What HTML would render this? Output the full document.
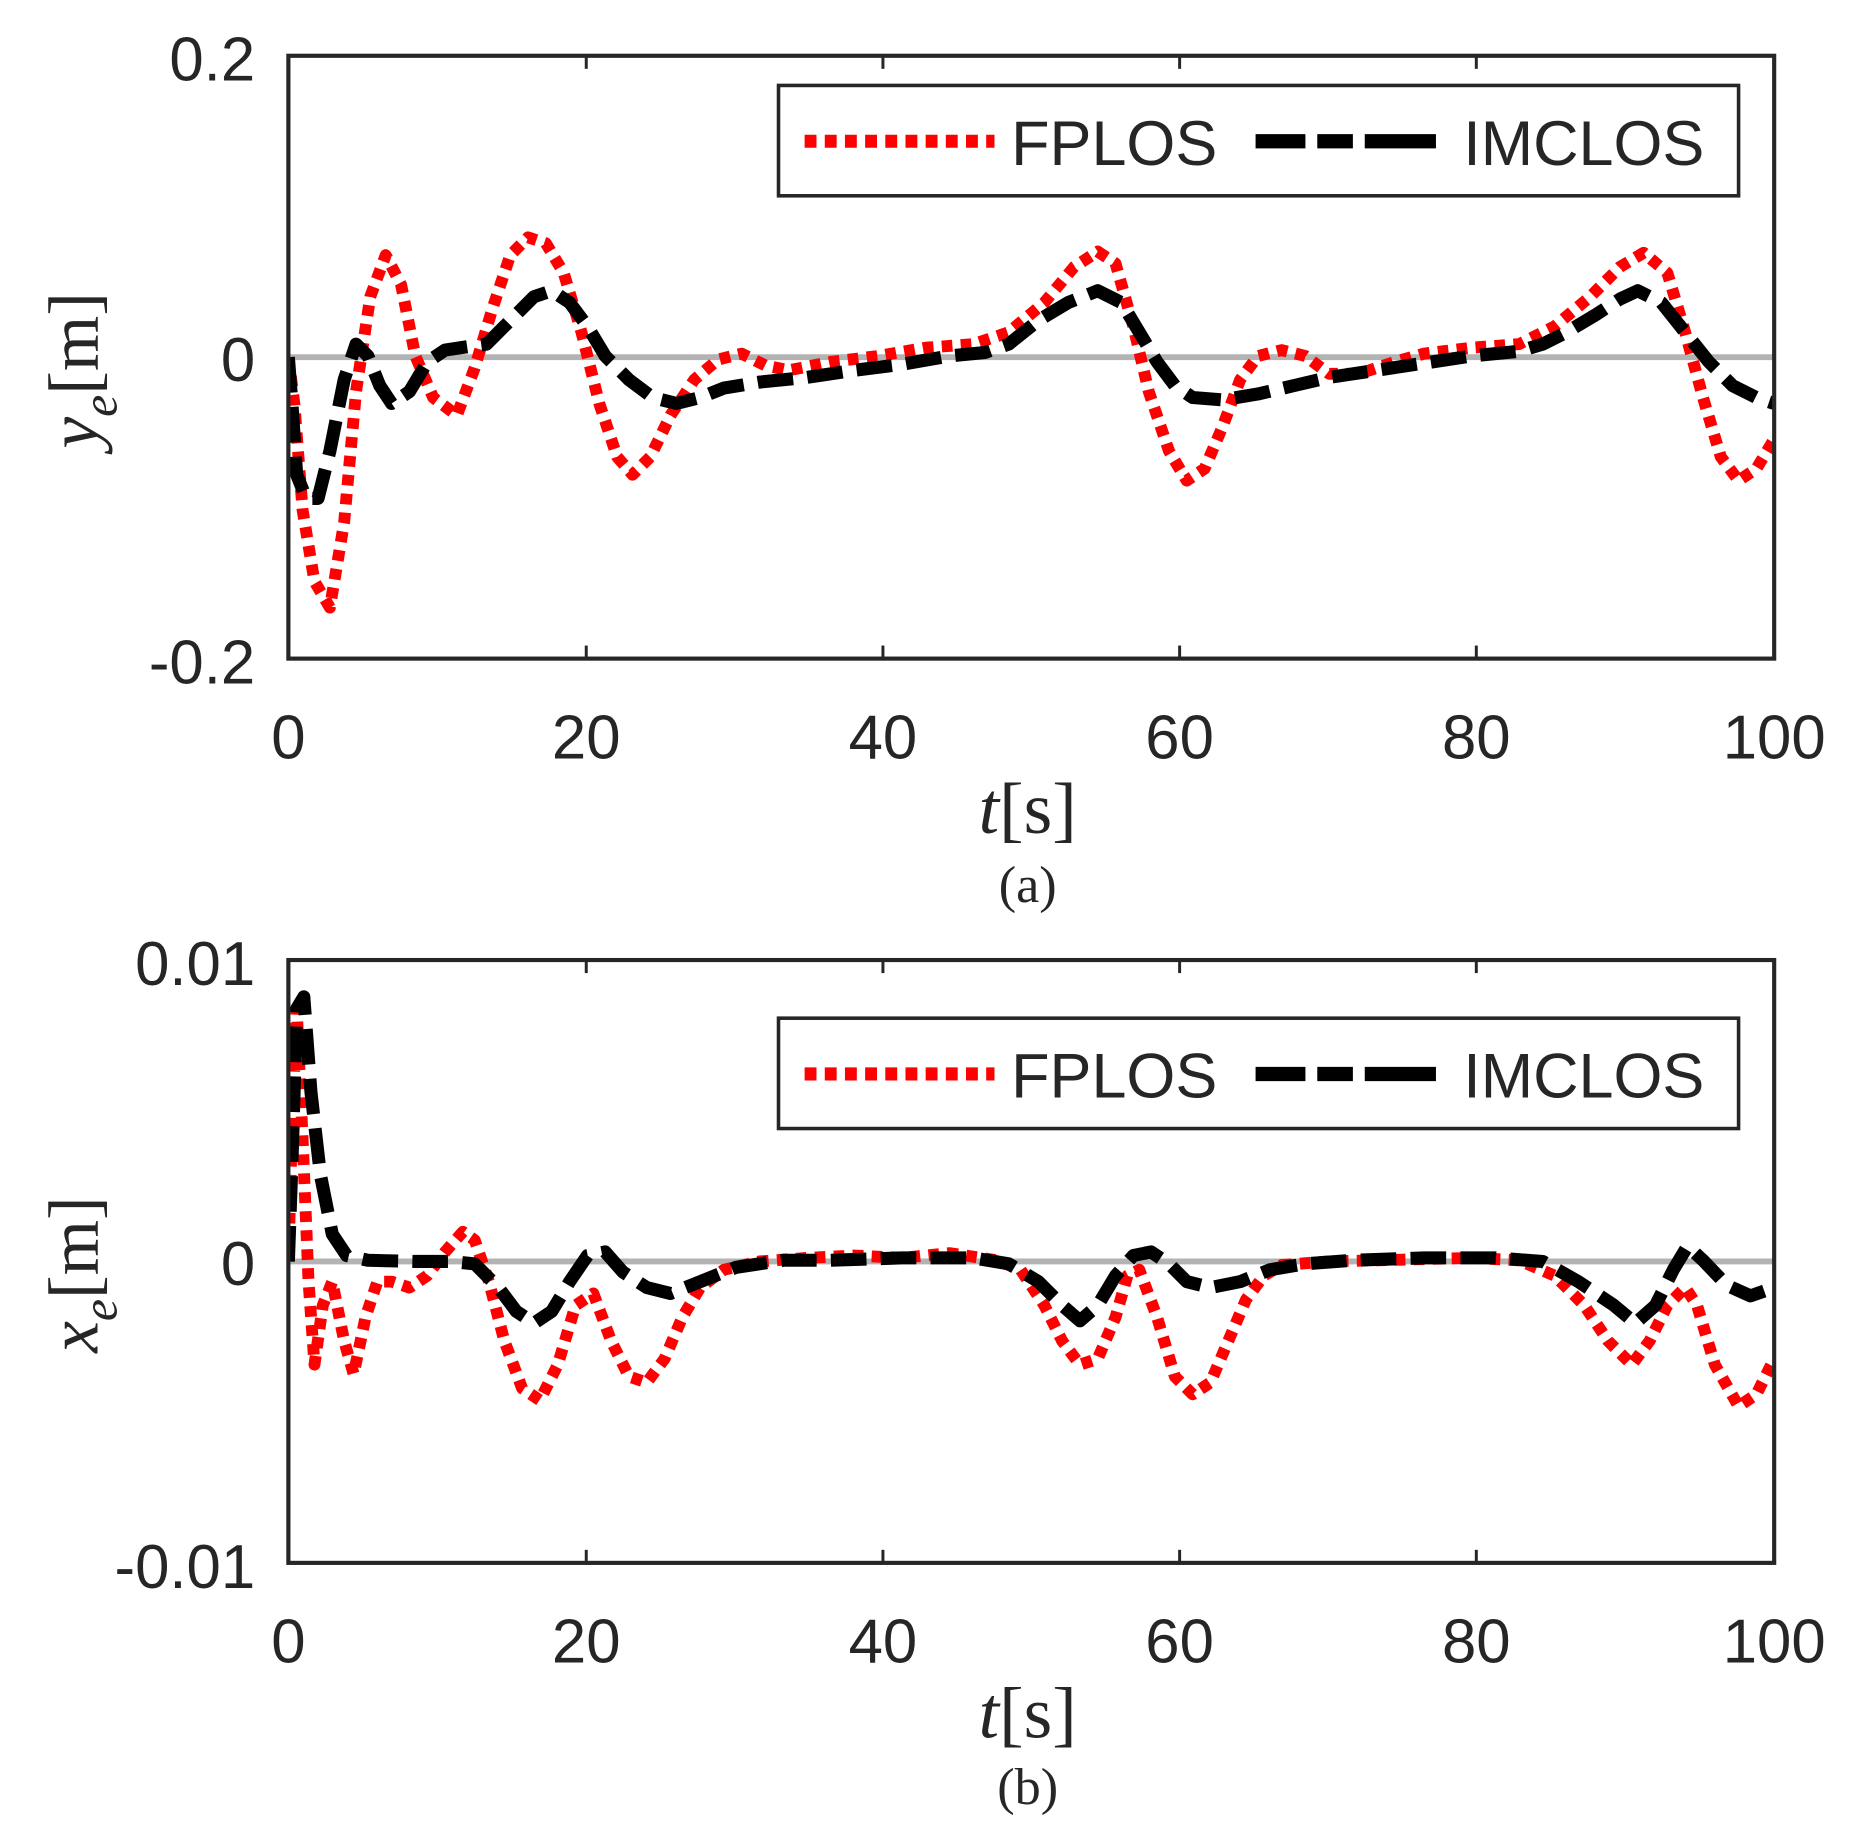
<!DOCTYPE html>
<html><head><meta charset="utf-8"><style>html,body{margin:0;padding:0;background:#fff}svg{display:block}</style></head>
<body>
<svg width="1862" height="1837" viewBox="0 0 1569 1548" preserveAspectRatio="none" xmlns="http://www.w3.org/2000/svg">
<rect width="1569" height="1548" fill="#fff"/>
<defs>
<clipPath id="ca"><rect x="243" y="47" width="1252" height="508"/></clipPath>
<clipPath id="cb"><rect x="243" y="809" width="1252" height="508"/></clipPath>
</defs>
<g font-family="Liberation Sans, sans-serif" font-size="52" fill="#262626">
<!-- Plot A -->
<line x1="243" y1="301" x2="1495" y2="301" stroke="#b3b3b3" stroke-width="5"/>
<g clip-path="url(#ca)" fill="none" stroke-linejoin="round">
<polyline stroke="#ff0000" stroke-width="10" stroke-dasharray="9 7" points="243,301 248,340 255,430 265,490 278,512 290,440 300,330 312,250 325,215 338,240 350,300 365,335 385,350 400,310 415,260 430,215 445,200 460,205 475,230 490,280 505,340 520,385 533,400 548,385 565,350 585,320 605,303 625,298 645,308 665,312 700,305 740,300 780,293 820,290 850,280 880,255 905,225 925,212 940,222 955,275 968,330 985,380 1000,405 1015,395 1030,360 1045,320 1060,300 1080,295 1100,300 1120,315 1145,315 1175,305 1200,298 1240,293 1280,290 1310,275 1340,250 1365,225 1385,213 1405,230 1420,280 1435,335 1450,385 1465,405 1480,395 1495,370"/>
<polyline stroke="#000" stroke-width="11" stroke-dasharray="30 12" points="243,301 246,340 250,400 258,420 268,420 278,380 290,320 300,290 310,300 320,325 330,340 345,330 360,305 375,295 395,292 410,290 430,270 450,250 465,245 480,255 495,275 510,300 530,320 550,335 570,340 590,335 610,327 640,322 680,318 720,312 760,307 800,300 830,297 850,290 875,270 900,255 925,245 945,255 960,280 975,305 990,325 1005,335 1030,337 1060,332 1090,325 1120,318 1160,312 1200,306 1240,300 1280,296 1300,290 1320,280 1345,265 1365,252 1380,245 1400,255 1420,280 1440,305 1460,325 1480,335 1495,340"/>
</g>
<rect x="243" y="47" width="1252" height="508" fill="none" stroke="#262626" stroke-width="3.5"/>
<g stroke="#262626" stroke-width="2.5">
<line x1="494" y1="47" x2="494" y2="58"/><line x1="744" y1="47" x2="744" y2="58"/><line x1="994" y1="47" x2="994" y2="58"/><line x1="1244" y1="47" x2="1244" y2="58"/>
<line x1="494" y1="555" x2="494" y2="544"/><line x1="744" y1="555" x2="744" y2="544"/><line x1="994" y1="555" x2="994" y2="544"/><line x1="1244" y1="555" x2="1244" y2="544"/>
</g>
<text x="215" y="68" text-anchor="end">0.2</text>
<text x="215" y="321" text-anchor="end">0</text>
<text x="215" y="576" text-anchor="end">-0.2</text>
<g text-anchor="middle">
<text x="243" y="639">0</text><text x="494" y="639">20</text><text x="744" y="639">40</text><text x="994" y="639">60</text><text x="1244" y="639">80</text><text x="1495" y="639">100</text>
</g>
<rect x="656" y="72" width="809" height="93" fill="#fff" stroke="#262626" stroke-width="3"/>
<line x1="678" y1="119" x2="838" y2="119" stroke="#ff0000" stroke-width="11" stroke-dasharray="10 7"/>
<text x="852" y="139" font-size="53">FPLOS</text>
<line x1="1058" y1="119" x2="1210" y2="119" stroke="#000" stroke-width="12" stroke-dasharray="42 10 30 10 60"/>
<text x="1233" y="139" font-size="53">IMCLOS</text>
<g font-family="Liberation Serif, serif" fill="#262626">
<text transform="translate(82,312) rotate(-90)" text-anchor="middle" font-size="60"><tspan font-style="italic">y</tspan><tspan font-style="italic" font-size="42" dy="16">e</tspan><tspan dy="-16">[m]</tspan></text>
<text x="866" y="702" text-anchor="middle" font-size="62"><tspan font-style="italic">t</tspan>[s]</text>
<text x="866" y="760" text-anchor="middle" font-size="44">(a)</text>
</g>

<!-- Plot B -->
<line x1="243" y1="1063" x2="1495" y2="1063" stroke="#b3b3b3" stroke-width="5"/>
<g clip-path="url(#cb)" fill="none" stroke-linejoin="round">
<polyline stroke="#ff0000" stroke-width="10" stroke-dasharray="9 7" points="243,1063 246,950 250,850 255,960 260,1080 265,1150 272,1100 280,1080 290,1130 298,1158 308,1110 318,1080 330,1080 345,1085 360,1075 375,1055 390,1038 400,1045 412,1080 425,1130 440,1170 455,1180 470,1150 485,1100 500,1090 515,1130 530,1160 545,1165 560,1145 575,1110 590,1085 610,1070 640,1063 680,1060 720,1058 760,1060 800,1056 840,1062 860,1070 880,1100 895,1130 910,1150 925,1145 940,1110 950,1075 960,1070 975,1110 990,1160 1005,1175 1020,1165 1035,1130 1050,1095 1065,1075 1080,1066 1120,1063 1160,1062 1200,1061 1240,1060 1280,1062 1310,1075 1335,1100 1355,1130 1375,1150 1390,1130 1405,1100 1420,1085 1430,1100 1445,1150 1465,1185 1480,1175 1495,1145"/>
<polyline stroke="#000" stroke-width="11" stroke-dasharray="30 12" points="243,1063 246,980 250,850 256,840 262,920 270,990 280,1040 292,1058 310,1062 350,1063 380,1063 400,1065 420,1085 435,1105 450,1115 465,1105 480,1080 495,1058 510,1055 525,1072 545,1085 565,1090 590,1080 620,1068 660,1062 700,1062 760,1060 820,1060 850,1065 875,1080 895,1100 910,1113 925,1100 940,1075 955,1058 970,1055 985,1065 1000,1080 1020,1085 1045,1080 1070,1070 1100,1065 1140,1062 1200,1060 1260,1060 1300,1063 1330,1080 1360,1100 1378,1115 1395,1100 1410,1070 1422,1050 1435,1062 1455,1083 1475,1092 1495,1085"/>
</g>
<rect x="243" y="809" width="1252" height="508" fill="none" stroke="#262626" stroke-width="3.5"/>
<g stroke="#262626" stroke-width="2.5">
<line x1="494" y1="809" x2="494" y2="820"/><line x1="744" y1="809" x2="744" y2="820"/><line x1="994" y1="809" x2="994" y2="820"/><line x1="1244" y1="809" x2="1244" y2="820"/>
<line x1="494" y1="1317" x2="494" y2="1306"/><line x1="744" y1="1317" x2="744" y2="1306"/><line x1="994" y1="1317" x2="994" y2="1306"/><line x1="1244" y1="1317" x2="1244" y2="1306"/>
</g>
<text x="215" y="830" text-anchor="end">0.01</text>
<text x="215" y="1083" text-anchor="end">0</text>
<text x="215" y="1338" text-anchor="end">-0.01</text>
<g text-anchor="middle">
<text x="243" y="1401">0</text><text x="494" y="1401">20</text><text x="744" y="1401">40</text><text x="994" y="1401">60</text><text x="1244" y="1401">80</text><text x="1495" y="1401">100</text>
</g>
<rect x="656" y="858" width="809" height="93" fill="#fff" stroke="#262626" stroke-width="3"/>
<line x1="678" y1="905" x2="838" y2="905" stroke="#ff0000" stroke-width="11" stroke-dasharray="10 7"/>
<text x="852" y="925" font-size="53">FPLOS</text>
<line x1="1058" y1="905" x2="1210" y2="905" stroke="#000" stroke-width="12" stroke-dasharray="42 10 30 10 60"/>
<text x="1233" y="925" font-size="53">IMCLOS</text>
<g font-family="Liberation Serif, serif" fill="#262626">
<text transform="translate(82,1074) rotate(-90)" text-anchor="middle" font-size="60"><tspan font-style="italic">x</tspan><tspan font-style="italic" font-size="42" dy="16">e</tspan><tspan dy="-16">[m]</tspan></text>
<text x="866" y="1464" text-anchor="middle" font-size="62"><tspan font-style="italic">t</tspan>[s]</text>
<text x="866" y="1520" text-anchor="middle" font-size="44">(b)</text>
</g>
</g>
</svg>
</body></html>
